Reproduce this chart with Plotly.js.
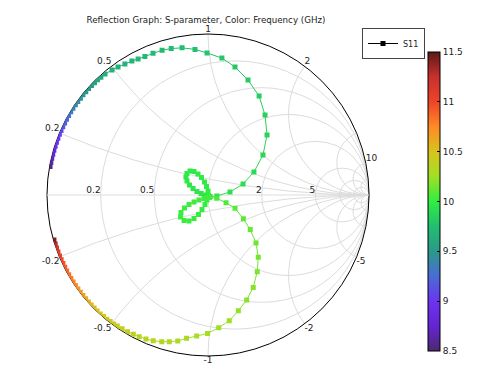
<!DOCTYPE html>
<html><head><meta charset="utf-8">
<script src="https://cdn.plot.ly/plotly-3.0.1.min.js"></script>
<style>html,body{margin:0;padding:0;background:#fff}</style>
</head><body><div id="chart" style="width:479px;height:366px"></div>
<script>
// S11 sweep: frequency (GHz), |S11|, phase(S11) in degrees
const freqGHz = [
  8.56,8.63,8.70,8.76,8.83,8.90,8.96,9.02,9.06,9.11,9.15,9.19,9.23,9.28,9.32,9.36,9.40,9.42,9.45,9.47,9.49,9.51,9.53,9.55,9.58,9.60,
  9.64,9.66,9.67,9.68,9.69,9.70,9.71,9.72,9.73,9.74,9.75,9.76,9.78,9.79,9.80,9.82,9.83,9.85,9.86,9.88,9.89,9.91,9.92,9.94,
  9.950,9.953,9.956,9.959,9.962,9.965,9.968,9.971,9.974,9.977,9.980,9.983,9.986,9.989,9.992,9.995,9.998,
  10.001,10.004,10.007,10.010,10.013,10.016,10.019,10.022,10.025,10.028,10.031,10.034,10.037,10.040,10.043,
  10.06,10.07,10.08,10.10,10.12,10.14,10.15,10.17,10.19,10.20,10.22,10.24,10.25,10.27,10.28,10.30,10.31,10.33,10.34,10.35,10.36,10.37,10.38,10.39,10.40,10.41,
  10.43,10.45,10.47,10.48,10.50,10.52,10.54,10.56,10.59,10.62,10.65,10.68,10.71,10.74,10.77,10.80,10.83,10.87,10.90,10.94,10.98,11.02,11.06,11.15,11.28,11.42
];
const s11Mag = [
  0.997,0.997,0.997,0.997,0.997,0.997,0.997,0.997,0.997,0.997,0.997,0.997,0.997,0.997,0.997,0.997,0.996,0.996,0.995,0.995,0.994,0.994,0.993,0.992,0.991,0.989,
  0.987,0.979,0.972,0.963,0.957,0.950,0.945,0.944,0.943,0.938,0.928,0.908,0.882,0.855,0.813,0.756,0.692,0.610,0.523,0.422,0.319,0.228,0.138,0.056,
  0.016,0.019,0.044,0.072,0.101,0.131,0.157,0.177,0.187,0.186,0.170,0.145,0.116,0.084,0.054,0.025,0.004,
  0.032,0.062,0.097,0.135,0.170,0.200,0.217,0.219,0.200,0.167,0.132,0.097,0.064,0.033,0.018,
  0.058,0.122,0.187,0.265,0.339,0.422,0.497,0.566,0.639,0.695,0.743,0.792,0.827,0.860,0.879,0.900,0.926,0.942,0.955,0.967,0.974,0.978,0.982,0.985,0.988,0.990,
  0.992,0.994,0.995,0.996,0.997,0.997,0.997,0.997,0.997,0.997,0.997,0.997,0.997,0.997,0.997,0.997,0.997,0.997,0.997,0.997,0.997,0.997,0.997,0.997,0.997,0.997
];
const s11PhaseDeg = [
  169.8,168.3,166.8,165.3,163.8,162.3,160.8,159.3,157.8,156.3,154.8,153.3,151.8,150.3,148.8,147.3,145.8,144.3,142.8,141.3,139.8,138.3,136.8,135.3,133.8,132.3,
  130.4,127.5,125.1,122.4,119.6,117.2,114.5,111.2,107.6,104.1,100.0,95.1,90.4,84.2,78.1,70.8,62.7,54.5,45.5,36.0,26.6,17.4,7.8,-6.3,
  -36.9,180,167.9,162.3,156.6,151.6,146.3,140.7,134.3,126.9,120.8,115.5,110.4,105.1,100,90,-45,
  -101.3,-107.5,-112.5,-116,-120.8,-126.2,-133.3,-141.3,-147,-151,-153.4,-153.4,-150.9,-138.8,-59,
  -20.8,-23.2,-26.2,-34.0,-39.3,-45,-51.1,-57.3,-63.9,-69.8,-75.3,-80.4,-85.4,-90.2,-94.6,-98.5,-101.7,-104.8,-107.5,-110.6,-113.3,-115.9,-118.2,-120.5,-122.7,-124.7,
  -126.2,-127.7,-129.2,-130.7,-132.2,-133.7,-135.2,-136.7,-138.2,-139.7,-141.2,-142.7,-144.2,-145.7,-147.2,-148.7,-150.2,-151.7,-153.2,-154.7,-156.2,-157.7,-159.2,-160.7,-162.2,-163.7
];
const seriesName = 'S11';
const realGridVals = [0.2, 0.5, 1, 2, 5, 10, 20];
const imagGridVals = [-20, -10, -5, -2, -1, -0.5, -0.2, 0.2, 0.5, 1, 2, 5, 10, 20];
const realTickLabels = [0.2, 0.5, 2, 5];
const imagTickLabels = [-5, -2, -1, -0.5, -0.2, 0.2, 0.5, 1, 2, 10];
const cbTickVals = [8.5, 9, 9.5, 10, 10.5, 11, 11.5];
const cbTickText = ['8.5', '9', '9.5', '10', '10.5', '11', '11.5'];
const fMin = 8.5, fMax = 11.5;

const stopFreqs = [8.5, 8.75, 9.0, 9.25, 9.5, 9.75, 10.0, 10.25, 10.5, 10.75, 11.0, 11.25, 11.5];
const stopColors = ['#4a2a6e','#6524d4','#6c34f0','#4a6cd6','#2a9a8a','#22be70','#30ee40','#a0e024','#d8c41c','#ff8a26','#ee4428','#c8302e','#5a1a1a'];
const colorscale = stopFreqs.map((f, i) => [(f - fMin) / (fMax - fMin), stopColors[i]]);

function hexToRgb(h) { return [parseInt(h.slice(1,3),16), parseInt(h.slice(3,5),16), parseInt(h.slice(5,7),16)]; }
function colorAt(f) {
  if (f <= stopFreqs[0]) return stopColors[0];
  for (let i = 1; i < stopFreqs.length; i++) {
    if (f <= stopFreqs[i]) {
      const t = (f - stopFreqs[i-1]) / (stopFreqs[i] - stopFreqs[i-1]);
      const a = hexToRgb(stopColors[i-1]), b = hexToRgb(stopColors[i]);
      const c = a.map((v, k) => Math.round(v + (b[k] - v) * t));
      return 'rgb(' + c.join(',') + ')';
    }
  }
  return stopColors[stopColors.length - 1];
}

// reflection coefficient -> normalized impedance
const zRe = [], zIm = [];
for (let i = 0; i < freqGHz.length; i++) {
  const th = s11PhaseDeg[i] * Math.PI / 180;
  const gr = s11Mag[i] * Math.cos(th), gi = s11Mag[i] * Math.sin(th);
  const d = (1 - gr) * (1 - gr) + gi * gi;
  zRe.push((1 - gr * gr - gi * gi) / d);
  zIm.push(2 * gi / d);
}

const tf = { family: 'DejaVu Sans', size: 9, color: '#222' };
const traces = [];
for (let i = 0; i < freqGHz.length - 1; i++) {
  traces.push({
    type: 'scattersmith', subplot: 'smith', mode: 'lines',
    real: [zRe[i], zRe[i+1]], imag: [zIm[i], zIm[i+1]],
    line: { color: colorAt((freqGHz[i] + freqGHz[i+1]) / 2), width: 1 },
    cliponaxis: true, showlegend: false, hoverinfo: 'skip'
  });
}
traces.push({
  type: 'scattersmith', subplot: 'smith', mode: 'markers',
  real: zRe, imag: zIm, cliponaxis: true, showlegend: false,
  marker: {
    symbol: 'square', size: 5, color: freqGHz, colorscale: colorscale,
    cmin: fMin, cmax: fMax, line: { width: 0 }, showscale: true,
    colorbar: {
      x: 428 / 479, xanchor: 'left', xpad: 0, y: 1 - 52 / 366, yanchor: 'top', ypad: 0,
      thickness: 12, thicknessmode: 'pixels', len: 299 / 366, lenmode: 'fraction',
      outlinecolor: '#000', outlinewidth: 1, borderwidth: 0,
      tickvals: cbTickVals, ticktext: cbTickText, ticks: 'inside', ticklen: 3, tickcolor: '#000',
      tickfont: tf
    }
  }
});
// resistance labels on the real axis, placed through the smith scale
traces.push({
  type: 'scattersmith', subplot: 'smith2', mode: 'text',
  real: realTickLabels, imag: realTickLabels.map(() => 0),
  text: realTickLabels.map(String), textposition: 'top left', textfont: tf,
  marker: { size: 1 }, cliponaxis: false, showlegend: false, hoverinfo: 'skip'
});
// reactance labels on the outer circle (r = 0), placed through the smith scale
function reactAnchor(v) {
  const vert = v < 0 ? 'bottom' : 'top';
  const a = Math.abs(v);
  const hor = a < 1 ? 'left' : (a === 1 ? 'center' : 'right');
  return vert + ' ' + hor;
}
traces.push({
  type: 'scattersmith', subplot: 'smith2', mode: 'text',
  real: imagTickLabels.map(() => 0), imag: imagTickLabels,
  text: imagTickLabels.map(String), textposition: imagTickLabels.map(reactAnchor), textfont: tf,
  marker: { size: 1 }, cliponaxis: false, showlegend: false, hoverinfo: 'skip'
});
// legend entry
traces.push({
  type: 'scatter', x: [0], y: [0], mode: 'lines+markers', name: seriesName,
  line: { color: '#000', width: 1 }, marker: { symbol: 'square', size: 5, color: '#000' },
  hoverinfo: 'skip'
});

const dom = { x: [47 / 479, 369 / 479], y: [10 / 366, 332 / 366] };
const layout = {
  width: 479, height: 366,
  margin: { l: 0, r: 0, t: 0, b: 0 },
  paper_bgcolor: '#fff', plot_bgcolor: 'rgba(0,0,0,0)',
  font: { family: 'DejaVu Sans', size: 9, color: '#222' },
  title: { text: 'Reflection Graph: S-parameter, Color: Frequency (GHz)', x: 206 / 479, xanchor: 'center',
           y: 1 - 20 / 366, yanchor: 'middle', font: { family: 'DejaVu Sans', size: 8.7, color: '#222' } },
  xaxis: { visible: false, range: [1, 2] },
  yaxis: { visible: false, range: [1, 2] },
  showlegend: true,
  legend: { x: 362 / 479, y: 1 - 28 / 366, xanchor: 'left', yanchor: 'top', bgcolor: '#fff',
            bordercolor: '#444', borderwidth: 1, itemwidth: 30, tracegroupgap: 0,
            font: { family: 'DejaVu Sans', size: 8, color: '#222' } },
  smith: {
    domain: dom, bgcolor: '#fff',
    realaxis: { tickvals: realGridVals, showticklabels: false, gridcolor: '#dcdcdc', gridwidth: 1,
                linecolor: '#dcdcdc', linewidth: 1, layer: 'below traces', ticks: '' },
    imaginaryaxis: { tickvals: imagGridVals, showticklabels: false, gridcolor: '#dcdcdc', gridwidth: 1,
                     linecolor: '#000', linewidth: 1, layer: 'below traces', ticks: '' }
  },
  smith2: {
    domain: dom, bgcolor: 'rgba(0,0,0,0)',
    realaxis: { tickvals: realTickLabels, showgrid: false, showline: false, ticks: '', showticklabels: false },
    imaginaryaxis: { tickvals: imagTickLabels, showgrid: false, showline: false, ticks: '', showticklabels: false }
  }
};
Plotly.newPlot('chart', traces, layout, { displayModeBar: false, staticPlot: true });
</script></body></html>
